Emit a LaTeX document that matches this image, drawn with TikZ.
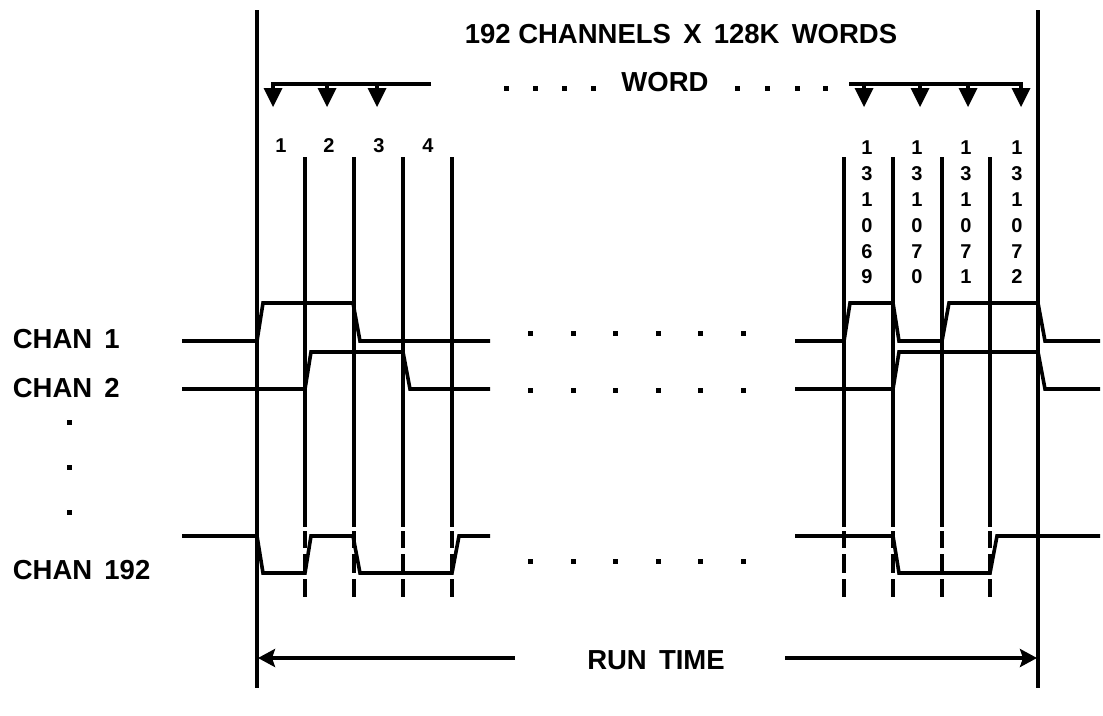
\documentclass[tikz,border=0pt]{standalone}
\usepackage{fontspec}
\setmainfont{Liberation Sans}
\usetikzlibrary{arrows.meta}
\begin{document}
\begin{tikzpicture}[x=1pt,y=-1pt,line width=3.6pt,line join=miter,
  big/.style={font=\bfseries\fontsize{27.5}{27.5}\selectfont,inner sep=0pt},
  digit/.style={font=\bfseries\fontsize{20}{20}\selectfont,inner sep=0pt},
  wave/.style={line width=3.6pt,line join=miter},
  dotsq/.style={fill,minimum size=5pt,inner sep=0pt,draw=none},
  runarrow/.style={-{Stealth[length=17pt,width=18pt,inset=3pt]}}]
\useasboundingbox (0,0) rectangle (1103,715);
% frame lines
\draw (257,10) -- (257,688);
\draw (1038,10) -- (1038,688);
% bit lines
\foreach \x in {305,354,403,452,844,893,942,990}{
  \draw (\x,157) -- (\x,527);
  \draw (\x,531) -- (\x,548);
  \draw (\x,554) -- (\x,573);
  \draw (\x,579) -- (\x,597);
}
% titles
\node[big] (title) at (681,34) {192 CHANNELS\, X\, 128K\, WORDS};
\node[big] (word) at (665,82) {WORD};
\foreach \x [count=\i] in {506,535,564,593,737,767,797,825}
  \node[dotsq] (td\i) at (\x,88) {};
% word arrows left
\draw (431,84) -- (273,84) -- (273,90);
\foreach \x in {327,377} \draw (\x,84) -- (\x,90);
\foreach \x in {273,327,377} \fill (\x-9.5,88) -- (\x+9.5,88) -- (\x,107) -- cycle;
% word arrows right
\draw (849,84) -- (1021,84) -- (1021,90);
\foreach \x in {864,920,968} \draw (\x,84) -- (\x,90);
\foreach \x in {864,920,968,1021} \fill (\x-9.5,88) -- (\x+9.5,88) -- (\x,107) -- cycle;
% word numbers
\foreach \x/\t [count=\i] in {281/1,329/2,379/3,428/4}
  \node[digit] (n\i) at (\x,146) {\t};
\foreach \x/\d [count=\i] in {867/{1,3,1,0,6,9},917/{1,3,1,0,7,0},966/{1,3,1,0,7,1},1017/{1,3,1,0,7,2}}{
  \foreach \c [count=\j] in \d {
    \pgfmathsetmacro{\yy}{148+25.8*(\j-1)}
    \node[digit] (r\i-\j) at (\x,\yy) {\c};
  }
}
% channel labels
\node[big,anchor=west] (c1) at (11,339) {CHAN\, 1};
\node[big,anchor=west] (c2) at (11,388) {CHAN\, 2};
\node[big,anchor=west] (c192) at (11,570) {CHAN\, 192};
\foreach \y [count=\i] in {422,467,512} \node[dotsq] (vd\i) at (69,\y) {};
% row dots
\foreach \y [count=\r] in {333,390,561}
  \foreach \x [count=\i] in {530,573,615,658,700,743}
    \node[dotsq] (rd\r-\i) at (\x,\y) {};
% waveforms left
\draw[wave] (182,341) -- (257,341) -- (263,303) -- (353,303) -- (360,341) -- (490,341);
\draw[wave] (182,389) -- (305,389) -- (311,352) -- (403,352) -- (410,389) -- (490,389);
\draw[wave] (182,536) -- (257,536) -- (263,573) -- (305,573) -- (311,536) -- (353,536) -- (360,573) -- (452,573) -- (459,536) -- (490,536);
% waveforms right
\draw[wave] (795,341) -- (844,341) -- (850,303) -- (893,303) -- (899,341) -- (942,341) -- (949,303) -- (1038,303) -- (1045,341) -- (1100,341);
\draw[wave] (795,389) -- (893,389) -- (899,352) -- (1038,352) -- (1045,389) -- (1100,389);
\draw[wave] (795,536) -- (893,536) -- (899,573) -- (990,573) -- (997,536) -- (1100,536);
% run time
\node[big] (run) at (656,660) {RUN\, TIME};
\coordinate (rl) at (258,658);
\coordinate (rr) at (1037,658);
\draw[runarrow] (515,658) -- (rl);
\draw[runarrow] (785,658) -- (rr);
\end{tikzpicture}
\end{document}
